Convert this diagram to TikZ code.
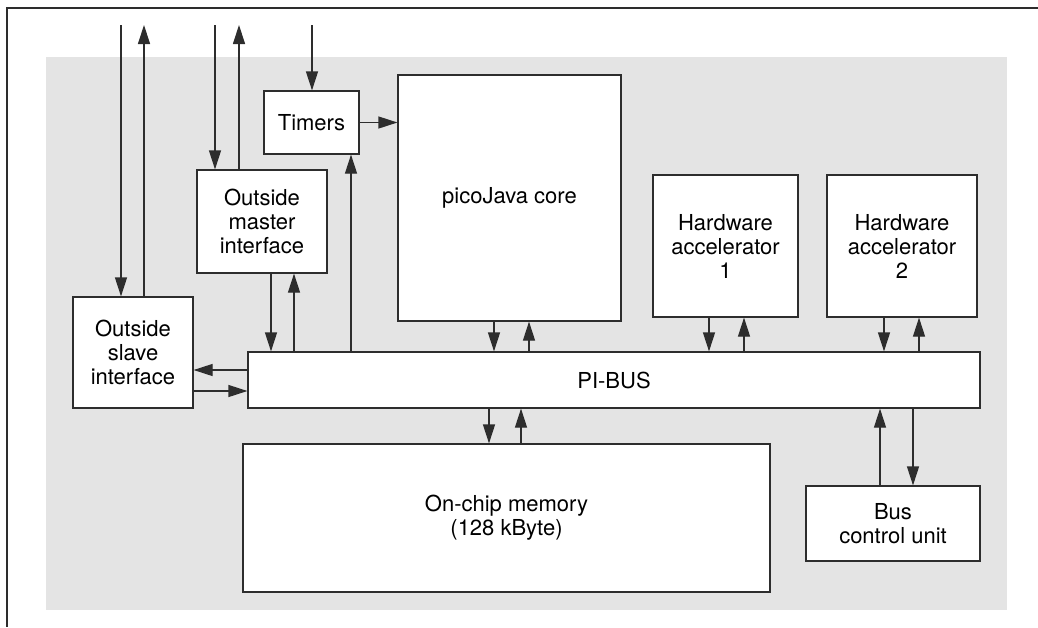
\documentclass[tikz,border=0pt]{standalone}
\usepackage{fontspec}
\setmainfont{TeX Gyre Heros}
\usepackage{tikz}
\usetikzlibrary{arrows.meta, calc, positioning}
\usepackage{xcolor}
\definecolor{panelgrey}{RGB}{228,228,228}
\definecolor{linegrey}{RGB}{45,45,45}

\begin{document}
\begin{tikzpicture}[
    x=0.5pt, y=-0.5pt,
    box/.style={rectangle, draw=linegrey, fill=white, line width=0.6pt, inner sep=0pt, align=center, font=\fontsize{11}{12}\selectfont},
    arrow/.style={-{Triangle[length=9.5pt, width=6pt]}, draw=linegrey, line width=0.6pt},
    frame/.style={draw=linegrey, line width=1pt}
]
    \useasboundingbox (0,0) rectangle (1038,627);

    % frame and chip area
    \draw[frame] (1038,7.5) -- (7,7.5) -- (7,627);
    \fill[panelgrey] (46,57) rectangle (1007,610);

    % blocks
    \node[box, minimum width=60pt, minimum height=55.5pt] (slave) at (133,352.5) {Outside\\slave\\interface};
    \node[box, minimum width=65pt, minimum height=51.5pt] (master) at (262,221.5) {Outside\\master\\interface};
    \node[box, minimum width=47.5pt, minimum height=31.5pt] (timers) at (311.5,122.5) {Timers};
    \node[box, minimum width=111.5pt, minimum height=123pt] (pico) at (509.5,198) {picoJava core};
    \node[box, minimum width=72.5pt, minimum height=71pt] (hwa) at (725.5,246) {Hardware\\accelerator\\1};
    \node[box, minimum width=75pt, minimum height=71pt] (hwb) at (902,246) {Hardware\\accelerator\\2};
    \node[box, minimum width=366pt, minimum height=28pt] (bus) at (614,380) {PI-BUS};
    \node[box, minimum width=263.5pt, minimum height=74pt] (mem) at (506.5,518) {On-chip memory\\(128 kByte)};
    \node[box, minimum width=87pt, minimum height=37.5pt] (bcu) at (893,523.5) {Bus\\control unit};

    % outside connections
    \coordinate (slavein) at (121,25);
    \coordinate (slaveout) at (144,25);
    \coordinate (masterin) at (215,25);
    \coordinate (masterout) at (239,25);
    \coordinate (timerin) at (312,25);
    \draw[arrow] (slavein) -- (slavein |- slave.north);
    \draw[arrow] (slaveout |- slave.north) -- (slaveout);
    \draw[arrow] (masterin) -- (masterin |- master.north);
    \draw[arrow] (masterout |- master.north) -- (masterout);
    \draw[arrow] (timerin) -- (timerin |- timers.north);

    % timers
    \draw[arrow] (timers.east) -- (timers.east -| pico.west);
    \draw[arrow] (351,0 |- bus.north) -- (351,0 |- timers.south);

    % bus connections
    \draw[arrow] (271,0 |- master.south) -- (271,0 |- bus.north);
    \draw[arrow] (294,0 |- bus.north) -- (294,0 |- master.south);
    \draw[arrow] (bus.west |- 0,370) -- (slave.east |- 0,370);
    \draw[arrow] (slave.east |- 0,391) -- (bus.west |- 0,391);
    \draw[arrow] (494,0 |- pico.south) -- (494,0 |- bus.north);
    \draw[arrow] (529,0 |- bus.north) -- (529,0 |- pico.south);
    \draw[arrow] (709,0 |- hwa.south) -- (709,0 |- bus.north);
    \draw[arrow] (744,0 |- bus.north) -- (744,0 |- hwa.south);
    \draw[arrow] (884,0 |- hwb.south) -- (884,0 |- bus.north);
    \draw[arrow] (919,0 |- bus.north) -- (919,0 |- hwb.south);
    \draw[arrow] (489,0 |- bus.south) -- (489,0 |- mem.north);
    \draw[arrow] (521,0 |- mem.north) -- (521,0 |- bus.south);
    \draw[arrow] (880,0 |- bcu.north) -- (880,0 |- bus.south);
    \draw[arrow] (913,0 |- bus.south) -- (913,0 |- bcu.north);
\end{tikzpicture}
\end{document}
